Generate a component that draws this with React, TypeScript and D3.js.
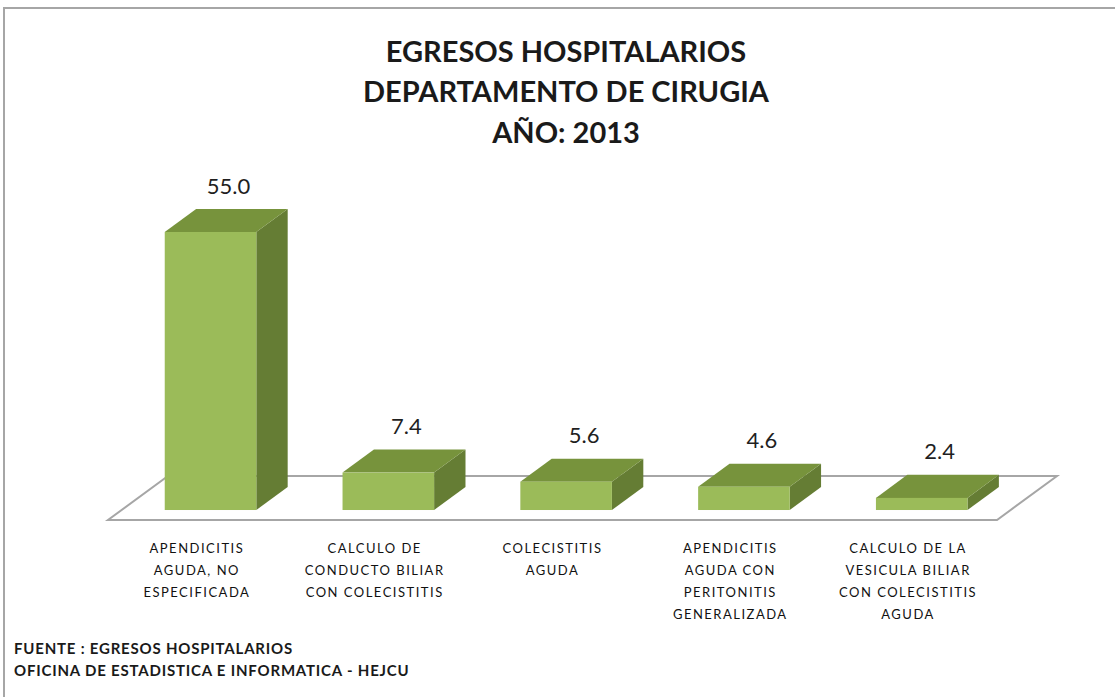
import React from "react";
import * as d3 from "d3";

// datos del grafico
const categories: string[][] = [
  ["APENDICITIS", "AGUDA, NO", "ESPECIFICADA"],
  ["CALCULO DE", "CONDUCTO BILIAR", "CON COLECISTITIS"],
  ["COLECISTITIS", "AGUDA"],
  ["APENDICITIS", "AGUDA CON", "PERITONITIS", "GENERALIZADA"],
  ["CALCULO DE LA", "VESICULA BILIAR", "CON COLECISTITIS", "AGUDA"],
];
const values: number[] = [55.0, 7.4, 5.6, 4.6, 2.4];
const titleLines: string[] = ["EGRESOS HOSPITALARIOS", "DEPARTAMENTO DE CIRUGIA", "AÑO: 2013"];
const footerLines: string[] = ["FUENTE : EGRESOS HOSPITALARIOS", "OFICINA DE ESTADISTICA E INFORMATICA - HEJCU"];

const W = 1115;
const H = 697;
const FONT = "Lato, 'Open Sans', sans-serif";

// piso en perspectiva
const floorY = 520;
const depthX = 60;
const depthY = 44;
const barDepth0 = 0.227;
const barDepth1 = 0.75;

const App: React.FC = () => {
  const ids = categories.map((_, i) => String(i));
  const x = d3.scaleBand<string>().domain(ids).range([108, 997]).paddingInner(0.485).paddingOuter(0.2425);
  const h = d3.scaleLinear().domain([0, 55]).range([0, 278]);

  const proj = (px: number, py: number, f: number): [number, number] => [px + f * depthX, py - f * depthY];
  const pts = (arr: [number, number][]) => arr.map((p) => p.join(",")).join(" ");

  const floor = pts([
    [108, floorY],
    [997, floorY],
    proj(997, floorY, 1),
    proj(108, floorY, 1),
  ]);

  return (
    <svg width={W} height={H} style={{ position: "absolute", left: 0, top: 0, background: "#fff" }}>
      <rect x={4} y={8} width={W + 10} height={H + 10} fill="#fff" stroke="#a6a6a6" strokeWidth={2} />

      <g fontFamily={FONT} fontWeight="bold" fontSize={29} fill="#1a1a1a" textAnchor="middle">
        {titleLines.map((t, i) => (
          <text key={i} x={566} y={50 + i * 40.5} dominantBaseline="central">
            {t}
          </text>
        ))}
      </g>

      <polygon points={floor} fill="#fff" stroke="#a6a6a6" strokeWidth={2} />

      {values.map((v, i) => {
        const bx = (x(ids[i]) ?? 0);
        const bw = x.bandwidth();
        const [fx, fy] = proj(bx, floorY, barDepth0);
        const top = fy - h(v);
        const d = barDepth1 - barDepth0;
        const [ox, oy] = [d * depthX, -d * depthY];
        const topFace = pts([
          [fx, top],
          [fx + bw, top],
          [fx + bw + ox, top + oy],
          [fx + ox, top + oy],
        ]);
        const sideFace = pts([
          [fx + bw, top],
          [fx + bw + ox, top + oy],
          [fx + bw + ox, fy + oy],
          [fx + bw, fy],
        ]);
        return (
          <g key={i}>
            <polygon points={sideFace} fill="#657d34" />
            <polygon points={topFace} fill="#77933c" />
            <rect x={fx} y={top} width={bw} height={fy - top} fill="#9bbb59" />
            <text
              x={fx + bw / 2 + 18}
              y={top - 47}
              dominantBaseline="central"
              textAnchor="middle"
              fontFamily={FONT}
              fontSize={22}
              fill="#1f1f1f"
            >
              {v.toFixed(1)}
            </text>
          </g>
        );
      })}

      <g fontFamily={FONT} fontSize={13} fill="#111" textAnchor="middle" letterSpacing={1.5}>
        {categories.map((lines, i) => (
          <text key={i} x={(x(ids[i]) ?? 0) + x.bandwidth() / 2} y={548}>
            {lines.map((l, j) => (
              <tspan key={j} x={(x(ids[i]) ?? 0) + x.bandwidth() / 2} y={548 + j * 22} dominantBaseline="central">
                {l}
              </tspan>
            ))}
          </text>
        ))}
      </g>

      <g fontFamily={FONT} fontWeight="bold" fontSize={15} fill="#1a1a1a" letterSpacing={0.8}>
        {footerLines.map((t, i) => (
          <text key={i} x={14} y={648 + i * 22} dominantBaseline="central">
            {t}
          </text>
        ))}
      </g>
    </svg>
  );
};

export default App;
